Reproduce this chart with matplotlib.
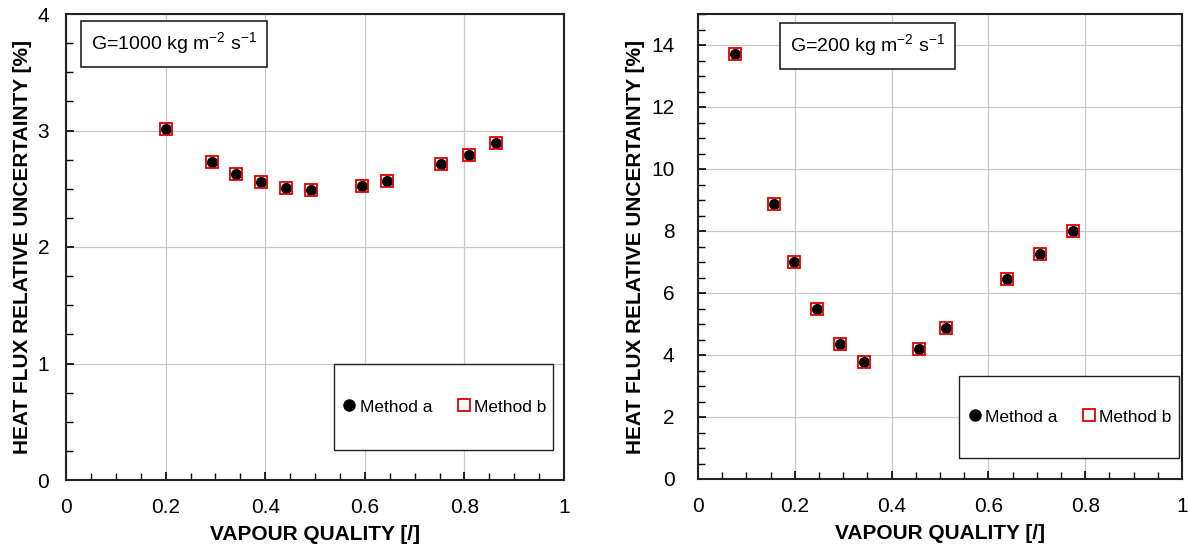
import matplotlib
matplotlib.use('Agg')
import matplotlib.pyplot as plt
from matplotlib.patches import Rectangle
from matplotlib.ticker import MultipleLocator

plt.rcParams['font.family'] = ['Liberation Sans', 'DejaVu Sans']
plt.rcParams['mathtext.fontset'] = 'custom'
plt.rcParams['mathtext.rm'] = 'Liberation Sans'

# G = 1000 kg m-2 s-1
x_1000 = [0.200, 0.293, 0.342, 0.391, 0.441, 0.491, 0.595, 0.644, 0.753, 0.809, 0.864]
a_1000 = [3.01, 2.73, 2.63, 2.56, 2.51, 2.49, 2.52, 2.57, 2.71, 2.79, 2.89]
b_1000 = [3.01, 2.73, 2.63, 2.56, 2.51, 2.49, 2.52, 2.57, 2.71, 2.79, 2.89]

# G = 200 kg m-2 s-1
x_200 = [0.076, 0.157, 0.198, 0.246, 0.293, 0.343, 0.457, 0.512, 0.638, 0.707, 0.775]
a_200 = [13.70, 8.87, 7.00, 5.47, 4.35, 3.77, 4.18, 4.88, 6.45, 7.25, 8.00]
b_200 = [13.70, 8.87, 7.00, 5.47, 4.35, 3.77, 4.18, 4.88, 6.45, 7.25, 8.00]

W, H = 1189, 550
fig = plt.figure(figsize=(W / 100, H / 100), dpi=100)


def px_axes(x0, y0, x1, y1):
    return fig.add_axes([x0 / W, 1 - y1 / H, (x1 - x0) / W, (y1 - y0) / H])


def style(ax, ymax, ymajor, yminor, ypad):
    ax.set_xlim(0, 1)
    ax.set_ylim(0, ymax)
    ax.xaxis.set_major_locator(MultipleLocator(0.2))
    ax.xaxis.set_minor_locator(MultipleLocator(0.05))
    ax.yaxis.set_major_locator(MultipleLocator(ymajor))
    ax.yaxis.set_minor_locator(MultipleLocator(yminor))
    ax.xaxis.set_major_formatter(lambda v, p: f'{v:g}')
    ax.grid(True, which='major', color='#c8c8c8', linewidth=0.9)
    ax.set_axisbelow(True)
    for s in ax.spines.values():
        s.set_linewidth(1.5)
        s.set_color('#222222')
    ax.tick_params(which='major', direction='in', length=6, width=1.2, labelsize=15)
    ax.tick_params(which='minor', direction='in', length=5, width=1.0)
    ax.tick_params(axis='x', which='major', pad=13)
    ax.tick_params(axis='y', which='major', pad=ypad)
    ax.set_xlabel('VAPOUR QUALITY [/]', fontsize=15, fontweight='bold', labelpad=6)
    ax.set_ylabel('HEAT FLUX RELATIVE UNCERTAINTY [%]', fontsize=15, fontweight='bold',
                  labelpad=4)


def draw(ax, x, a, b):
    ax.plot(x, a, 'o', color='black', markersize=8, markeredgewidth=0, label='Method a', zorder=3)
    ax.plot(x, b, 's', markerfacecolor='none', markeredgecolor='#e00000', markersize=8,
            markeredgewidth=1.3, label='Method b', zorder=4)


def legend_box(ax, x0, y0, x1, y1):
    r = Rectangle((x0, y0), x1 - x0, y1 - y0, transform=ax.transAxes, facecolor='white',
                  edgecolor='#222222', linewidth=1.0, zorder=5)
    ax.add_patch(r)
    leg = ax.legend(loc='center', bbox_to_anchor=((x0 + x1) / 2, (y0 + y1) / 2), ncol=2,
                    frameon=False, fontsize=12.5, handletextpad=0.1, columnspacing=1.3,
                    handlelength=1.0)
    leg.set_zorder(6)
    leg.legend_handles[0].set_markersize(9)
    leg.legend_handles[1].set_markersize(9)


def label_box(ax, x, y, txt):
    ax.text(x, y, txt, transform=ax.transAxes, fontsize=14, va='top', ha='left', zorder=6,
            bbox=dict(boxstyle='square,pad=0.5', facecolor='white', edgecolor='#222222',
                      linewidth=1.2))


ax1 = px_axes(66, 14, 564, 480)
style(ax1, 4, 1, 0.25, 12)
draw(ax1, x_1000, a_1000, b_1000)
legend_box(ax1, (334 - 66) / 498, (480 - 450) / 466, (553 - 66) / 498, (480 - 364) / 466)
label_box(ax1, 0.05, 0.965, 'G=1000 kg m$^{-2}$ s$^{-1}$')

ax2 = px_axes(698, 14, 1182, 479)
style(ax2, 15, 2, 0.5, 17)
draw(ax2, x_200, a_200, b_200)
legend_box(ax2, (959 - 698) / 484, (479 - 458) / 465, (1179 - 698) / 484, (479 - 376) / 465)
label_box(ax2, 0.19, 0.96, 'G=200 kg m$^{-2}$ s$^{-1}$')

fig.savefig('out.png', dpi=100)
